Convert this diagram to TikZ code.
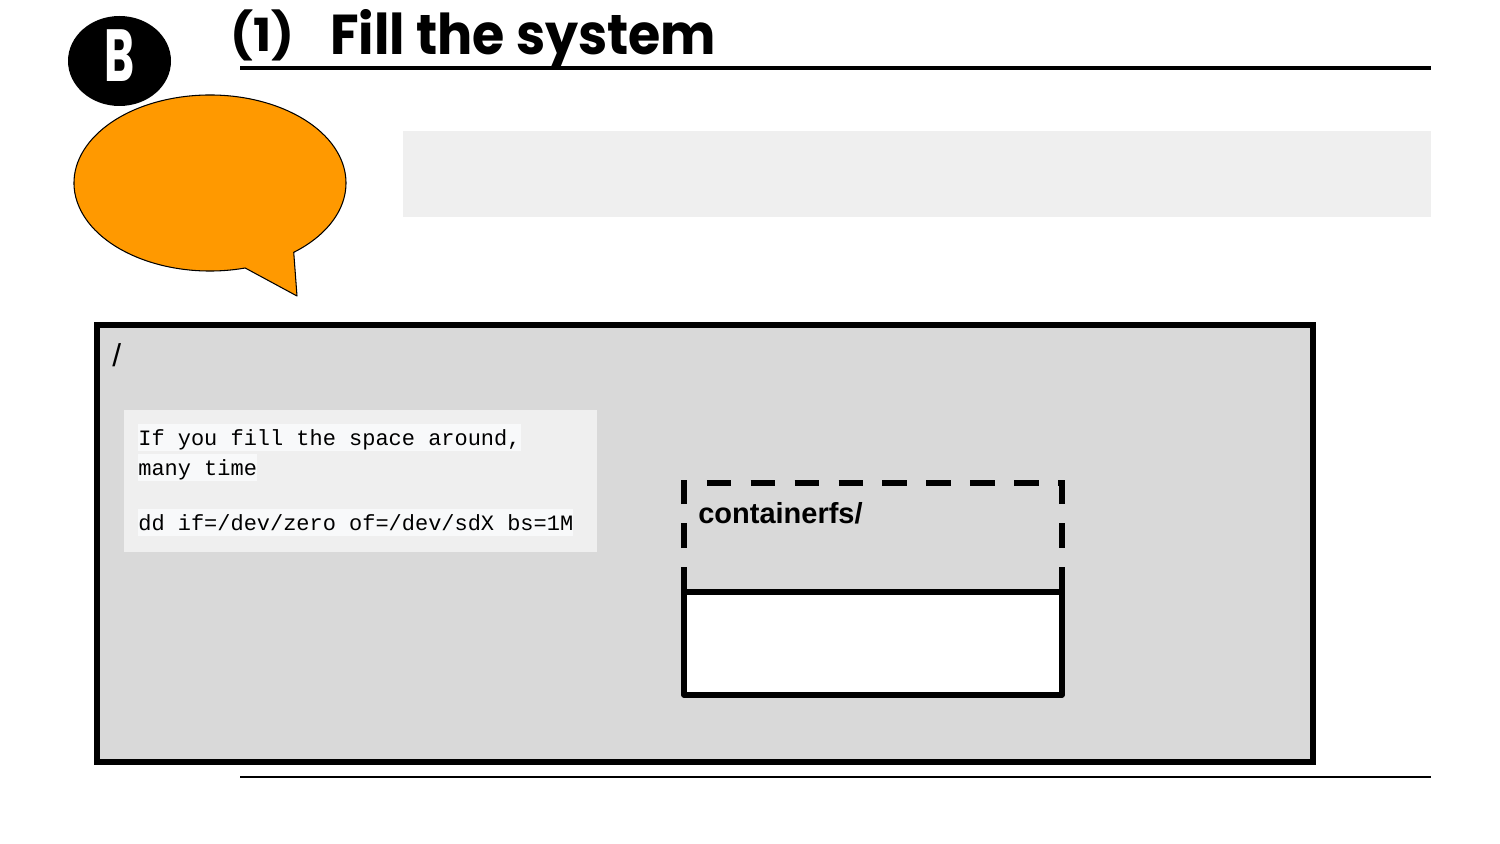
\documentclass[tikz,border=0pt]{standalone}
\usepackage{fontspec}
\setmainfont{Liberation Sans}
\setmonofont{Liberation Mono}
\newfontfamily\titlefont{Poppins}
\usetikzlibrary{positioning}
\definecolor{bubbleorange}{HTML}{FF9900}
\definecolor{panelgray}{HTML}{EFEFEF}
\definecolor{rootgray}{HTML}{D9D9D9}
\definecolor{codebg}{HTML}{F8F9FA}
\tikzset{
  codeline/.style={font=\ttfamily\fontsize{12.5}{15}\selectfont,fill=codebg,
    inner sep=0pt,text height=11.9pt,text depth=3.4pt,anchor=base west},
  heading/.style={font=\titlefont\bfseries\fontsize{32}{38}\selectfont,
    inner sep=0pt,anchor=base west},
  thickline/.style={line width=3pt},
}
\begin{document}
\begin{tikzpicture}[x=0.02cm,y=-0.02cm,every node/.style={font=\small}]
  \useasboundingbox (0,0) rectangle (1500,844);
  % Badge B
  \fill (119.5,61) ellipse [x radius=51.5, y radius=45];
  \node[heading,anchor=base,text=white,font=\titlefont\bfseries\fontsize{42}{46}\selectfont]
    (badge) at (119.5,82) {\scalebox{0.62}[1]{B}};
  % Heading and rules
  \node[heading,font=\titlefont\bfseries\fontsize{26}{31}\selectfont]
    (num) at (230,52) {\scalebox{1.05}[1]{(1)}};
  \node[heading] (title) at (330,55) {\scalebox{0.93}[1]{Fill the system}};
  \draw[line width=2.8pt] (240,68) -- (1431,68);
  \draw[line width=1.6pt] (240,777) -- (1431,777);
  % Speech bubble
  \draw[fill=bubbleorange,line width=0.6pt,line join=round]
    (210,183) ++(75:136 and 88)
    arc[start angle=75,end angle=412,x radius=136,y radius=88]
    -- (297,296) -- cycle;
  % Empty panel
  \fill[panelgray] (403,131) rectangle (1431,217);
  % Root filesystem
  \draw[thickline,fill=rootgray] (97,325) rectangle (1313,762);
  \node[anchor=base west,inner sep=0pt,font=\fontsize{18}{20}\selectfont]
    (rootlabel) at (112,366) {/};
  % Code note
  \fill[panelgray] (124,410) rectangle (597,552);
  \node[codeline] (line1) at (138,445) {If you fill the space around,};
  \node[codeline] (line2) at (138,475) {many time};
  \node[codeline] (line3) at (138,530) {dd if=/dev/zero of=/dev/sdX bs=1M};
  % containerfs
  \draw[thickline,dash pattern=on 14pt off 11pt] (684,592) -- (684,483)
    -- (1062,483) -- (1062,592);
  \node[anchor=base west,inner sep=0pt,font=\bfseries\fontsize{16.5}{19}\selectfont]
    (fslabel) at (698,523) {containerfs/};
  \draw[thickline,fill=white,line join=round] (684,592) rectangle (1062,695);
\end{tikzpicture}
\end{document}
